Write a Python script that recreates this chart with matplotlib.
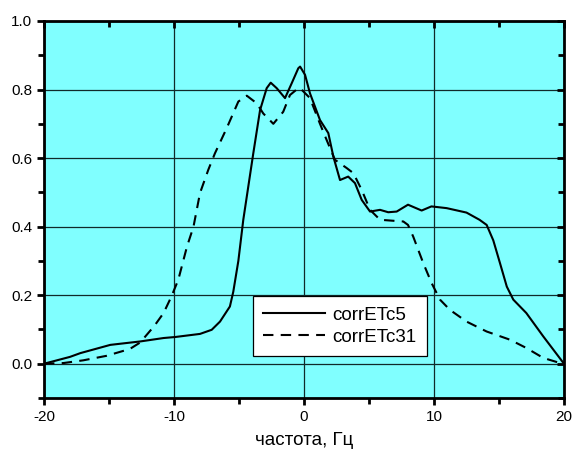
import numpy as np
import matplotlib.pyplot as plt
from matplotlib.ticker import MultipleLocator

# corrETc5 (solid)
x5 = [-20, -18, -17.2, -14.9, -12.6, -10.8, -9.9, -8, -7.1, -6.46, -5.7, -5.44,
      -5.05, -4.67, -3.9, -3.38, -2.87, -2.56, -2.1, -1.46, -0.95, -0.44, -0.3,
      0.08, 0.46, 1.23, 1.87, 2.26, 2.77, 3.4, 3.92, 4.44, 5.08, 5.85, 6.48,
      7.13, 8.0, 9.05, 9.8, 10.97, 12.5, 13.5, 14.05, 14.56, 15.08, 15.6, 16.1,
      17.1, 18.4, 20]
y5 = [0.0, 0.02, 0.031, 0.055, 0.065, 0.075, 0.078, 0.087, 0.099, 0.123, 0.167,
      0.21, 0.30, 0.42, 0.614, 0.74, 0.804, 0.82, 0.804, 0.775, 0.818, 0.862,
      0.867, 0.843, 0.789, 0.711, 0.673, 0.604, 0.536, 0.546, 0.527, 0.478,
      0.444, 0.449, 0.442, 0.444, 0.464, 0.447, 0.459, 0.454, 0.441, 0.42,
      0.405, 0.36, 0.293, 0.225, 0.187, 0.148, 0.08, 0.0]

# corrETc31 (dashed)
x31 = [-20, -18.5, -16.97, -15.2, -13.4, -12.6, -11.5, -10.8, -10.2, -9.67, -9.0,
       -8.5, -8.0, -7.36, -6.85, -5.95, -5.05, -4.4, -3.64, -3.13, -2.36, -1.6,
       -1.08, -0.44, -0.3, 0.46, 1.23, 1.74, 2.38, 3.28, 3.8, 4.44, 5.08, 5.85,
       7.64, 8.0, 8.4, 9.18, 9.82, 10.46, 11.23, 12.5, 14.05, 15.85, 17.1, 18.4,
       19.7, 20]
y31 = [0.0, 0.002, 0.01, 0.023, 0.043, 0.062, 0.111, 0.148, 0.196, 0.245, 0.342,
       0.40, 0.498, 0.566, 0.614, 0.687, 0.765, 0.782, 0.76, 0.73, 0.70, 0.735,
       0.784, 0.804, 0.804, 0.775, 0.70, 0.653, 0.595, 0.571, 0.556, 0.507,
       0.449, 0.42, 0.415, 0.405, 0.371, 0.293, 0.235, 0.187, 0.157, 0.123,
       0.094, 0.07, 0.046, 0.017, 0.002, 0.0]

plt.rcParams['font.family'] = ['Liberation Sans', 'DejaVu Sans']
plt.rcParams['axes.unicode_minus'] = False

fig = plt.figure(figsize=(5.73, 4.57), dpi=100)
ax = fig.add_axes([44 / 573, 1 - 398 / 457, 520 / 573, 377 / 457])
ax.set_facecolor('#80FFFF')

ax.plot(x5, y5, color='black', lw=1.5, label='corrETc5')
ax.plot(x31, y31, color='black', lw=1.5, dashes=(5, 3.5), label='corrETc31')

ax.set_xlim(-20, 20)
ax.set_ylim(-0.1, 1.0)
ax.xaxis.set_major_locator(MultipleLocator(10))
ax.xaxis.set_minor_locator(MultipleLocator(5))
ax.yaxis.set_minor_locator(MultipleLocator(0.1))
ax.set_yticks([0.0, 0.2, 0.4, 0.6, 0.8, 1.0])
ax.set_yticklabels(['0.0', '0.2', '0.4', '0.6', '0.8', '1.0'])

ax.grid(True, which='major', color='#102a2a', lw=0.9)
ax.set_axisbelow(True)

for s in ax.spines.values():
    s.set_linewidth(2)
ax.tick_params(which='major', direction='out', length=5, width=2, labelsize=11)
ax.tick_params(which='minor', direction='out', length=4, width=2)
ax.tick_params(which='both', top=True, right=True, labeltop=False, labelright=False)
# top/right ticks point inward
for t in ax.xaxis.get_ticklines(minor=True)[1::2] + ax.xaxis.get_ticklines()[1::2]:
    t.set_marker(3)
for t in ax.yaxis.get_ticklines(minor=True)[1::2] + ax.yaxis.get_ticklines()[1::2]:
    t.set_marker(0)

ax.set_xlabel('частота, Гц', fontsize=13.5, labelpad=6)

leg = ax.legend(loc='lower left', bbox_to_anchor=((253 - 44) / 520, (398 - 356) / 377),
                fontsize=13.5, frameon=True, fancybox=False, handlelength=3.3,
                borderpad=0.55, labelspacing=0.25, handletextpad=0.4, borderaxespad=0)
leg.get_frame().set_edgecolor('black')
leg.get_frame().set_linewidth(0.9)
leg.get_frame().set_facecolor('white')
leg.get_frame().set_alpha(1)

fig.savefig('out.png', dpi=100)
